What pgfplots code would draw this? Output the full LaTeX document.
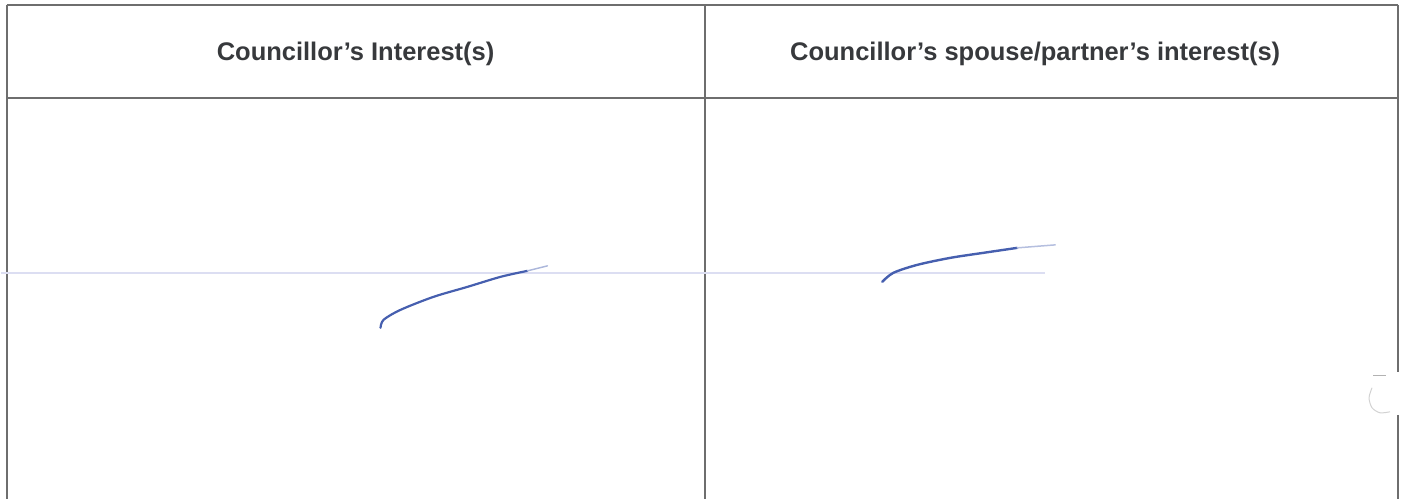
\documentclass[border=0pt]{standalone}
\usepackage{pgfplots}
\pgfplotsset{compat=1.18}
\usepackage{fontspec}
\setmainfont{Liberation Sans}
\definecolor{rule}{RGB}{110,110,110}
\definecolor{pen}{RGB}{70,95,175}
\definecolor{faint}{RGB}{220,222,242}
\definecolor{head}{RGB}{55,57,60}
\begin{document}
\begin{tikzpicture}
\begin{axis}[
  scale only axis, width=1404pt, height=499pt,
  xmin=0, xmax=1404, ymin=0, ymax=499, y dir=reverse,
  hide axis, clip=false,
]
\path[draw=none] (axis cs:0,0) rectangle (axis cs:1404,499);
% table rules
\addplot[rule, line width=2pt] coordinates {(6,5) (1398,5)};
\addplot[rule, line width=2pt] coordinates {(6,98) (1398,98)};
\addplot[rule, line width=2pt] coordinates {(6,5) (6,499)};
\addplot[rule, line width=2pt] coordinates {(705,5) (705,499)};
\addplot[rule, line width=2pt] coordinates {(1398,5) (1398,372)};
\addplot[rule, line width=2pt] coordinates {(1398,415) (1398,499)};
% faint scan artefact circle
\addplot[gray!35, line width=1pt, smooth] coordinates {(1372,388) (1369,398) (1372,408) (1380,413) (1390,412)};
\addplot[gray!60, line width=1pt] coordinates {(1373,376) (1386,376)};
% faint pen line
\addplot[faint, line width=1.5pt] coordinates {(0,273) (1045,273)};
% pen strokes
\addplot[pen, line width=2.2pt, smooth, line cap=round] coordinates {(380,328) (383,320) (400,310) (433,297) (467,287) (500,277) (527,271)};
\addplot[pen!45, line width=1.5pt, smooth, line cap=round] coordinates {(527,271) (547,266)};
\addplot[pen, line width=2.4pt, smooth, line cap=round] coordinates {(882,282) (893,273) (917,265) (950,258) (983,253) (1017,248)};
\addplot[pen!40, line width=1.5pt, smooth, line cap=round] coordinates {(1017,248) (1055,245)};
% headers
\node[text=head, anchor=base, font=\fontsize{25.5}{30}\selectfont\bfseries] at (axis cs:355,61) {Councillor’s Interest(s)};
\node[text=head, anchor=base, font=\fontsize{25.5}{30}\selectfont\bfseries] at (axis cs:1035,61) {Councillor’s spouse/partner’s interest(s)};
\end{axis}
\end{tikzpicture}
\end{document}
